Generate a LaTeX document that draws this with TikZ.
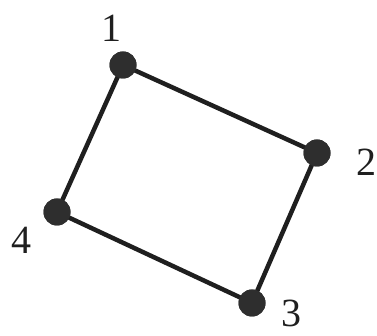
\documentclass[tikz,border=0pt]{standalone}
\usepackage{fontspec}
\setmainfont{Liberation Serif}
\begin{document}
\begin{tikzpicture}[x=1pt,y=1pt,
  vertex/.style={circle,fill=black!82,inner sep=0pt,minimum size=27pt},
  edge/.style={line width=4.5pt,black!88},
  lbl/.style={font=\fontsize{40}{40}\selectfont,text=black!88,inner sep=0pt}]
\useasboundingbox (0,0) rectangle (377,336);
\fill[white] (0,0) rectangle (377,336);
\node[vertex] (n1) at (123,271) {};
\node[vertex] (n2) at (317,183) {};
\node[vertex] (n3) at (252,33) {};
\node[vertex] (n4) at (57,124) {};
\draw[edge] (n1.center) -- (n2.center) -- (n3.center) -- (n4.center) -- cycle;
\node[vertex] at (n1) {};
\node[vertex] at (n2) {};
\node[vertex] at (n3) {};
\node[vertex] at (n4) {};
\node[lbl] (l1) at (111,308) {1};
\node[lbl] (l2) at (366,174) {2};
\node[lbl] (l3) at (291,23) {3};
\node[lbl] (l4) at (21,96) {4};
\end{tikzpicture}
\end{document}
